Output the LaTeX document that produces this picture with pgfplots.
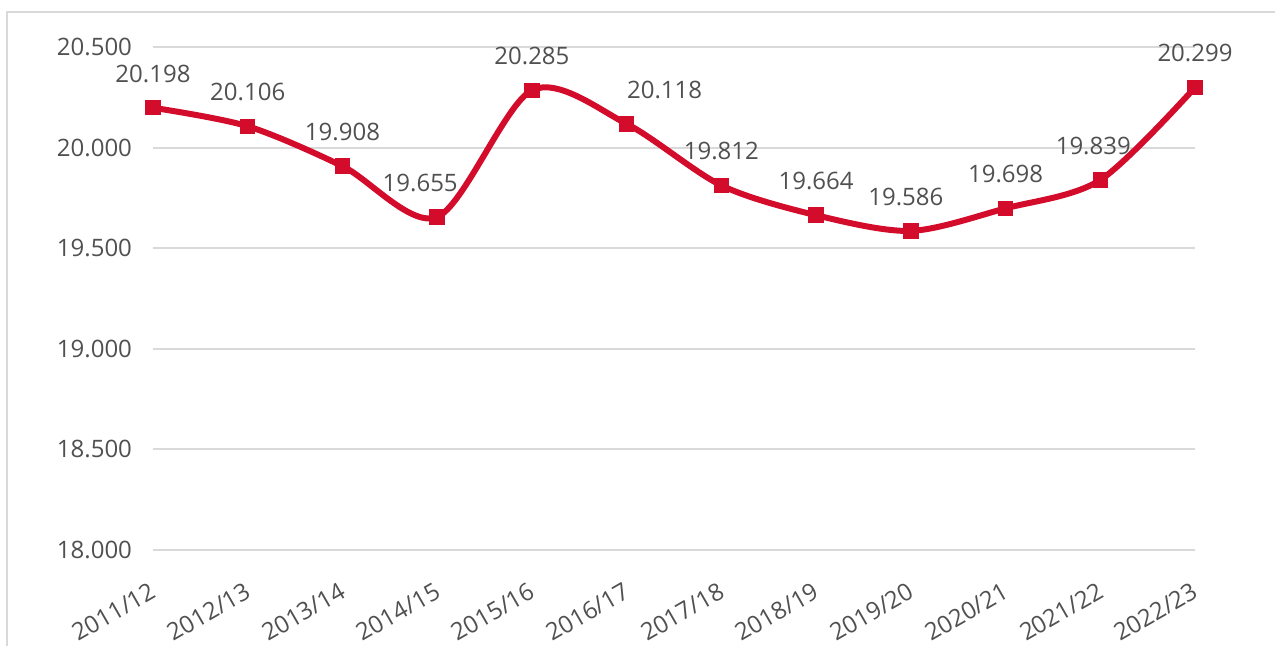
\documentclass[border=0pt]{standalone}
\usepackage{pgfplots}
\usepackage{pgfplotstable}
\pgfplotsset{compat=1.18}
\usepackage{fontspec}
\setmainfont{Open Sans}
\definecolor{linered}{HTML}{D40C2C}
\definecolor{gridgray}{HTML}{D9D9D9}
\definecolor{txtgray}{HTML}{505050}
\pgfplotstableread{
x y dx
0 20.198 0
1 20.106 0
2 19.908 0
3 19.655 -8.5
4 20.285 0
5 20.118 19
6 19.812 0
7 19.664 0
8 19.586 -2.5
9 19.698 0
10 19.839 -3.5
11 20.299 0
}\datatable
\begin{document}
\begin{tikzpicture}
\useasboundingbox (0,0) rectangle (637.5pt,323pt);
\draw[gridgray, line width=1pt] (3.5pt,-2pt) -- (3.5pt,317pt) -- (640pt,317pt);
\begin{axis}[
  at={(76.5pt,48pt)}, anchor=south west,
  scale only axis, width=521pt, height=251.5pt,
  xmin=0, xmax=11, ymin=18, ymax=20.5,
  axis line style={draw=none},
  major tick length=0pt,
  ytick={18,18.5,19,19.5,20,20.5},
  ymajorgrids, grid style={gridgray, line width=1pt},
  xtick={0,...,11},
  xticklabels={2011/12,2012/13,2013/14,2014/15,2015/16,2016/17,2017/18,2018/19,2019/20,2020/21,2021/22,2022/23},
  x tick label style={rotate=30, anchor=north east, font=\fontsize{12}{14}\selectfont, text=txtgray, xshift=-6pt, yshift=-9pt},
  y tick label style={font=\fontsize{12}{14}\selectfont, text=txtgray, xshift=-7pt},
  yticklabel style={/pgf/number format/.cd, fixed, zerofill, precision=3, assume math mode=true},
  clip=false,
]
\addplot[linered, line width=3pt, smooth, tension=0.5, mark=square*, mark size=3.6pt, mark options={solid, line width=0pt, fill=linered},
  nodes near coords,
  visualization depends on={\thisrow{dx} \as \dx},
  nodes near coords style={anchor=center, yshift=17pt, xshift=\dx pt, font=\fontsize{12}{14}\selectfont, text=txtgray,
    /pgf/number format/.cd, fixed, zerofill, precision=3, assume math mode=true},
] table[x=x, y=y] {\datatable};
\end{axis}
\end{tikzpicture}
\end{document}
